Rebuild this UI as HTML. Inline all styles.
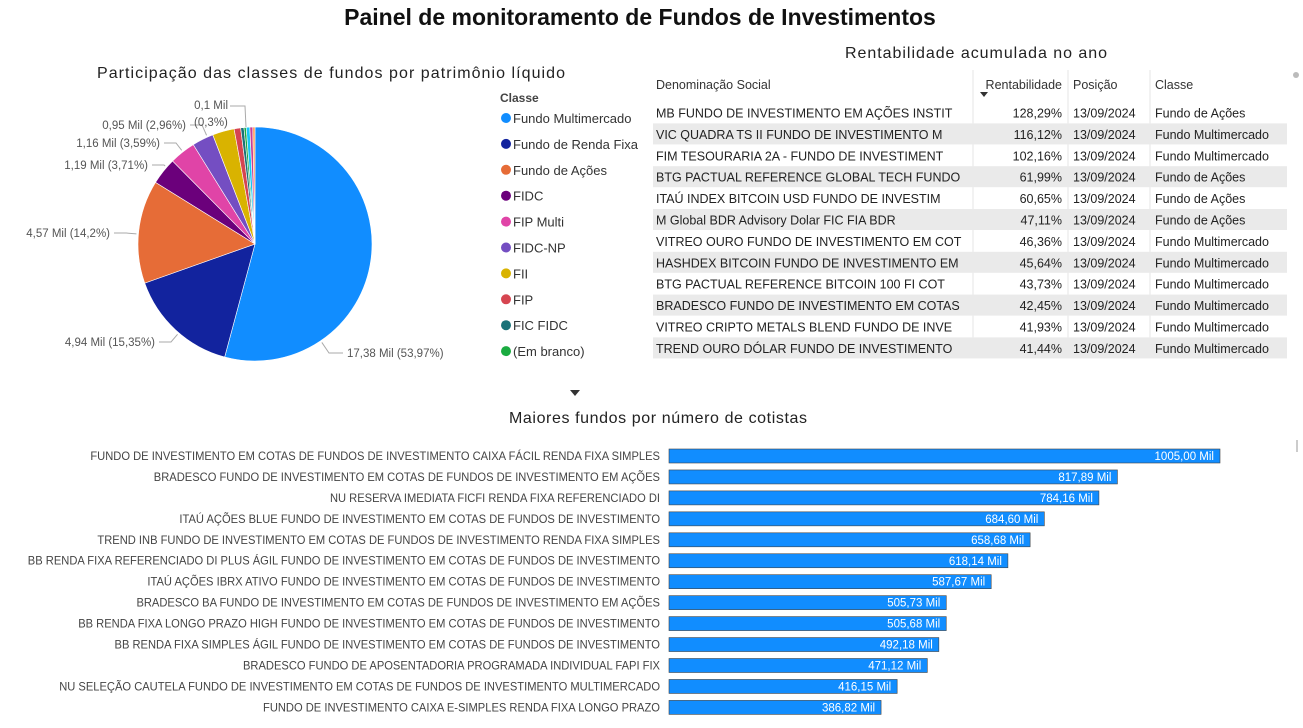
<!DOCTYPE html>
<html><head><meta charset="utf-8"><style>
body{margin:0;background:#fff;font-family:"Liberation Sans",sans-serif;}
svg{display:block}
</style></head><body>
<svg id="s" width="1303" height="728" viewBox="0 0 1303 728" xmlns="http://www.w3.org/2000/svg" font-family="Liberation Sans, sans-serif">
<text x="640" y="25" text-anchor="middle" font-size="23" font-weight="bold" fill="#111">Painel de monitoramento de Fundos de Investimentos</text>
<text x="331" y="78" text-anchor="middle" font-size="16" fill="#222" textLength="468">Participação das classes de fundos por patrimônio líquido</text>
<g id="pie"></g>
<g id="legend"></g>
<text x="976" y="58" text-anchor="middle" font-size="16" fill="#222" textLength="262">Rentabilidade acumulada no ano</text>
<g id="table"></g>
<circle cx="1296" cy="75" r="3" fill="#bbb"/>
<path d="M570 390 L580 390 L575 396 Z" fill="#333"/>
<text x="658" y="423" text-anchor="middle" font-size="16" fill="#222" textLength="298">Maiores fundos por número de cotistas</text>
<rect x="1296" y="440" width="2" height="12" fill="#ccc"/>
<g id="bars"></g>
</svg>
<script>
const NS="http://www.w3.org/2000/svg";
function mk(tag,attrs,parent){const e=document.createElementNS(NS,tag);for(const k in attrs)e.setAttribute(k,attrs[k]);parent.appendChild(e);return e;}
// Pie data
const pieClasses=["Fundo Multimercado","Fundo de Renda Fixa","Fundo de Ações","FIDC","FIP Multi","FIDC-NP","FII","FIP","FIC FIDC","(Em branco)","Outros1","Outros2","Outros3"];
const pieValues=[53.97,15.35,14.2,3.71,3.59,2.96,3.0,0.9,0.45,0.3,0.5,0.4,0.3];
const pieLabels=["17,38 Mil (53,97%)","4,94 Mil (15,35%)","4,57 Mil (14,2%)","1,19 Mil (3,71%)","1,16 Mil (3,59%)","0,95 Mil (2,96%)","","","","","","",""];
const pieColors=["#118DFF","#12239E","#E66C37","#6B007B","#E044A7","#744EC2","#D9B300","#D64550","#197278","#1AAB40","#15C6F4","#C83D95","#FF994E"];
const legendClasses=["Fundo Multimercado","Fundo de Renda Fixa","Fundo de Ações","FIDC","FIP Multi","FIDC-NP","FII","FIP","FIC FIDC","(Em branco)"];
const pie=document.getElementById('pie');
const cx=255,cy=244,R=117;
const tot=pieValues.reduce((a,b)=>a+b,0);
let a0=0;
const labelPos=[[347,357,"start"],[155,346,"end"],[110,237,"end"],[148,169,"end"],[160,147,"end"],[186,129,"end"]];
pieValues.forEach((v,i)=>{
  const a1=a0+v/tot*2*Math.PI;
  const p=(a)=>[cx+R*Math.sin(a),cy-R*Math.cos(a)];
  const [x0,y0]=p(a0),[x1,y1]=p(a1);
  const path=mk('path',{d:`M${cx} ${cy} L${x0} ${y0} A${R} ${R} 0 ${a1-a0>Math.PI?1:0} 1 ${x1} ${y1} Z`,fill:pieColors[i],stroke:'#fff','stroke-width':0.6},pie);
  
  
  if(pieLabels[i]){
    const lp=labelPos[i];
    const lx=lp[2]=="start"?lp[0]-4:lp[0]+4;
    const ly=lp[1]-4;
    const kx=lx+(lp[2]=="start"?-14:12);
    const ang=Math.atan2(kx-cx,-(ly-cy));
    const [ex,ey]=[cx+(R+2)*Math.sin(ang),cy-(R+2)*Math.cos(ang)];
    mk('polyline',{points:`${ex},${ey} ${kx},${ly} ${lx},${ly}`,fill:'none',stroke:'#aaa','stroke-width':1},pie);
    const t=mk('text',{x:lp[0],y:lp[1],'text-anchor':lp[2],'font-size':11.5,fill:'#555'},pie);
    t.textContent=pieLabels[i];
    
    
  }
  a0=a1;
});
let t1=mk('text',{x:228,y:109,'text-anchor':'end','font-size':11.5,fill:'#555'},pie);t1.textContent="0,1 Mil";


let t2=mk('text',{x:194,y:126,'font-size':11.5,fill:'#555'},pie);t2.textContent="(0,3%)";


mk('polyline',{points:"230,106 245,106 246,127",fill:'none',stroke:'#aaa'},pie);
// legend
const lg=document.getElementById('legend');
let lt=mk('text',{x:500,y:102,'font-size':12,'font-weight':'bold',fill:'#444'},lg);lt.textContent="Classe";


legendClasses.forEach((c,i)=>{
  const y=123+i*25.9;
  const g=mk('g',{},lg);
  
  
  mk('circle',{cx:506,cy:y-5,r:5,fill:pieColors[i]},g);
  const t=mk('text',{x:513,y:y,'font-size':13,fill:'#333'},g);t.textContent=c;
});
// table
const tblNames=["MB FUNDO DE INVESTIMENTO EM AÇÕES INSTIT","VIC QUADRA TS II FUNDO DE INVESTIMENTO M","FIM TESOURARIA 2A - FUNDO DE INVESTIMENT","BTG PACTUAL REFERENCE GLOBAL TECH FUNDO","ITAÚ INDEX BITCOIN USD FUNDO DE INVESTIM","M Global BDR Advisory Dolar FIC FIA BDR","VITREO OURO FUNDO DE INVESTIMENTO EM COT","HASHDEX BITCOIN FUNDO DE INVESTIMENTO EM","BTG PACTUAL REFERENCE BITCOIN 100 FI COT","BRADESCO FUNDO DE INVESTIMENTO EM COTAS","VITREO CRIPTO METALS BLEND FUNDO DE INVE","TREND OURO DÓLAR FUNDO DE INVESTIMENTO"];
const tblReturns=["128,29%","116,12%","102,16%","61,99%","60,65%","47,11%","46,36%","45,64%","43,73%","42,45%","41,93%","41,44%"];
const tblDates=["13/09/2024","13/09/2024","13/09/2024","13/09/2024","13/09/2024","13/09/2024","13/09/2024","13/09/2024","13/09/2024","13/09/2024","13/09/2024","13/09/2024"];
const tblClasses=["Fundo de Ações","Fundo Multimercado","Fundo Multimercado","Fundo de Ações","Fundo de Ações","Fundo de Ações","Fundo Multimercado","Fundo Multimercado","Fundo Multimercado","Fundo Multimercado","Fundo Multimercado","Fundo Multimercado"];
const tb=document.getElementById('table');
[["Denominação Social",656,"start"],["Rentabilidade",1062,"end"],["Posição",1073,"start"],["Classe",1155,"start"]].forEach(h=>{
  const t=mk('text',{x:h[1],y:89,'text-anchor':h[2],'font-size':12.5,fill:'#333'},tb);t.textContent=h[0];
  
  
});
mk('path',{d:"M980 92 L988 92 L984 97 Z",fill:'#333'},tb);
[973,1068,1150].forEach(x=>mk('line',{x1:x,y1:70,x2:x,y2:358,stroke:'#e6e6e6'},tb));
tblNames.forEach((n,i)=>{
  const y=102+i*21.4;
  const g=mk('g',{},tb);
  
  
  if(i%2==1) mk('rect',{x:653,y:y,width:634,height:21,fill:'#eaeaea'},g);
  const ty=y+15.5;
  let t=mk('text',{x:656,y:ty,'font-size':12.5,fill:'#222'},g);t.textContent=n;
  t=mk('text',{x:1062,y:ty,'text-anchor':'end','font-size':12.5,fill:'#222'},g);t.textContent=tblReturns[i];
  t=mk('text',{x:1073,y:ty,'font-size':12.5,fill:'#222'},g);t.textContent=tblDates[i];
  t=mk('text',{x:1155,y:ty,'font-size':12.5,fill:'#222'},g);t.textContent=tblClasses[i];
});
// bars
const barNames=["FUNDO DE INVESTIMENTO EM COTAS DE FUNDOS DE INVESTIMENTO CAIXA FÁCIL RENDA FIXA SIMPLES","BRADESCO FUNDO DE INVESTIMENTO EM COTAS DE FUNDOS DE INVESTIMENTO EM AÇÕES","NU RESERVA IMEDIATA FICFI RENDA FIXA REFERENCIADO DI","ITAÚ AÇÕES BLUE FUNDO DE INVESTIMENTO EM COTAS DE FUNDOS DE INVESTIMENTO","TREND INB FUNDO DE INVESTIMENTO EM COTAS DE FUNDOS DE INVESTIMENTO RENDA FIXA SIMPLES","BB RENDA FIXA REFERENCIADO DI PLUS ÁGIL FUNDO DE INVESTIMENTO EM COTAS DE FUNDOS DE INVESTIMENTO","ITAÚ AÇÕES IBRX ATIVO FUNDO DE INVESTIMENTO EM COTAS DE FUNDOS DE INVESTIMENTO","BRADESCO BA FUNDO DE INVESTIMENTO EM COTAS DE FUNDOS DE INVESTIMENTO EM AÇÕES","BB RENDA FIXA LONGO PRAZO HIGH FUNDO DE INVESTIMENTO EM COTAS DE FUNDOS DE INVESTIMENTO","BB RENDA FIXA SIMPLES ÁGIL FUNDO DE INVESTIMENTO EM COTAS DE FUNDOS DE INVESTIMENTO","BRADESCO FUNDO DE APOSENTADORIA PROGRAMADA INDIVIDUAL FAPI FIX","NU SELEÇÃO CAUTELA FUNDO DE INVESTIMENTO EM COTAS DE FUNDOS DE INVESTIMENTO MULTIMERCADO","FUNDO DE INVESTIMENTO CAIXA E-SIMPLES RENDA FIXA LONGO PRAZO"];
const barValues=[1005.00,817.89,784.16,684.60,658.68,618.14,587.67,505.73,505.68,492.18,471.12,416.15,386.82];
const bg=document.getElementById('bars');
const x0=669, xMax=1005, wMax=551;
const xs=v=>v/xMax*wMax;
const fmt=v=>v.toFixed(2).replace('.',',')+' Mil';
const sx=0.93;
barNames.forEach((n,i)=>{
  const yc=456+i*20.95;
  const t=mk('text',{x:660,y:yc+4,'text-anchor':'end','font-size':12,fill:'#444'},bg);
  t.setAttribute('transform',`matrix(${sx},0,0,1,${660*(1-sx)},0)`);
  t.textContent=n;
  
  
  const r=mk('rect',{x:x0,y:yc-7,width:xs(barValues[i]),height:14,fill:'#118DFF',stroke:'#444','stroke-width':0.6},bg);
  
  
  const v=mk('text',{x:x0+xs(barValues[i])-6,y:yc+4,'text-anchor':'end','font-size':11.5,fill:'#fff'},bg);
  v.textContent=fmt(barValues[i]);
  
  
});
</script>
</body></html>
